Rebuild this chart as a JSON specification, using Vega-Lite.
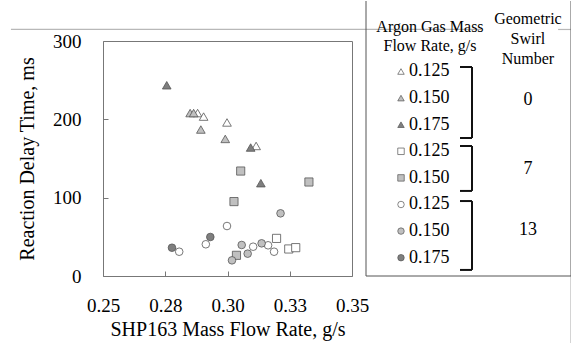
{
  "$schema": "https://vega.github.io/schema/vega-lite/v6.json",
  "padding": {"left": 10, "top": 0, "right": 0, "bottom": 0},
  "background": "white",
  "bounds": "flush",
  "spacing": 14,
  "config": {
    "font": "Liberation Serif",
    "axis": {"grid": false, "labelFont": "Liberation Serif", "titleFont": "Liberation Serif", "labelColor": "black", "titleColor": "black", "titleFontWeight": "normal"},
    "text": {"font": "Liberation Serif"}
  },
  "datasets": {
    "points": [
      {"shp": 0.2880, "delay": 208, "argon": "0.125", "swirl": "0"},
      {"shp": 0.2904, "delay": 203.5, "argon": "0.125", "swirl": "0"},
      {"shp": 0.2998, "delay": 196, "argon": "0.125", "swirl": "0"},
      {"shp": 0.3115, "delay": 166, "argon": "0.125", "swirl": "0"},
      {"shp": 0.2850, "delay": 208, "argon": "0.150", "swirl": "0"},
      {"shp": 0.2864, "delay": 208, "argon": "0.150", "swirl": "0"},
      {"shp": 0.2893, "delay": 187, "argon": "0.150", "swirl": "0"},
      {"shp": 0.2991, "delay": 175, "argon": "0.150", "swirl": "0"},
      {"shp": 0.2756, "delay": 243.5, "argon": "0.175", "swirl": "0"},
      {"shp": 0.3093, "delay": 164, "argon": "0.175", "swirl": "0"},
      {"shp": 0.3134, "delay": 118.5, "argon": "0.175", "swirl": "0"},
      {"shp": 0.3197, "delay": 48, "argon": "0.125", "swirl": "7"},
      {"shp": 0.3246, "delay": 34.5, "argon": "0.125", "swirl": "7"},
      {"shp": 0.3274, "delay": 36.2, "argon": "0.125", "swirl": "7"},
      {"shp": 0.3053, "delay": 134, "argon": "0.150", "swirl": "7"},
      {"shp": 0.3327, "delay": 120, "argon": "0.150", "swirl": "7"},
      {"shp": 0.3026, "delay": 95, "argon": "0.150", "swirl": "7"},
      {"shp": 0.3036, "delay": 26.4, "argon": "0.150", "swirl": "7"},
      {"shp": 0.2998, "delay": 63.8, "argon": "0.125", "swirl": "13"},
      {"shp": 0.2913, "delay": 40.5, "argon": "0.125", "swirl": "13"},
      {"shp": 0.3103, "delay": 37.4, "argon": "0.125", "swirl": "13"},
      {"shp": 0.3163, "delay": 39.2, "argon": "0.125", "swirl": "13"},
      {"shp": 0.3187, "delay": 31, "argon": "0.125", "swirl": "13"},
      {"shp": 0.2806, "delay": 31, "argon": "0.125", "swirl": "13"},
      {"shp": 0.3213, "delay": 80, "argon": "0.150", "swirl": "13"},
      {"shp": 0.3057, "delay": 39.6, "argon": "0.150", "swirl": "13"},
      {"shp": 0.3137, "delay": 41.7, "argon": "0.150", "swirl": "13"},
      {"shp": 0.3081, "delay": 28.5, "argon": "0.150", "swirl": "13"},
      {"shp": 0.3018, "delay": 20, "argon": "0.150", "swirl": "13"},
      {"shp": 0.2777, "delay": 36.1, "argon": "0.175", "swirl": "13"},
      {"shp": 0.2931, "delay": 49.8, "argon": "0.175", "swirl": "13"}
    ],
    "entries": [
      {"row": 1, "argon": "0.125", "swirl": "0"},
      {"row": 2, "argon": "0.150", "swirl": "0"},
      {"row": 3, "argon": "0.175", "swirl": "0"},
      {"row": 4, "argon": "0.125", "swirl": "7"},
      {"row": 5, "argon": "0.150", "swirl": "7"},
      {"row": 6, "argon": "0.125", "swirl": "13"},
      {"row": 7, "argon": "0.150", "swirl": "13"},
      {"row": 8, "argon": "0.175", "swirl": "13"}
    ],
    "headers": [
      {"text": "Argon Gas Mass", "row": -0.673, "col": 31.2},
      {"text": "Flow Rate, g/s", "row": 0.041, "col": 31.2},
      {"text": "Geometric", "row": -0.962, "col": 79},
      {"text": "Swirl", "row": -0.21, "col": 79},
      {"text": "Number", "row": 0.541, "col": 79}
    ],
    "groups": [
      {"text": "0", "row": 2.06, "col": 79},
      {"text": "7", "row": 4.665, "col": 79},
      {"text": "13", "row": 6.96, "col": 79}
    ],
    "brackets": [
      {"x1": 45.85, "x2": 51.7, "y1": 0.831, "y2": 0.831},
      {"x1": 51.7, "x2": 51.7, "y1": 0.831, "y2": 3.5},
      {"x1": 45.85, "x2": 51.7, "y1": 3.5, "y2": 3.5},
      {"x1": 45.85, "x2": 51.7, "y1": 3.8, "y2": 3.8},
      {"x1": 51.7, "x2": 51.7, "y1": 3.8, "y2": 5.49},
      {"x1": 45.85, "x2": 51.7, "y1": 5.49, "y2": 5.49},
      {"x1": 45.85, "x2": 51.7, "y1": 5.87, "y2": 5.87},
      {"x1": 51.7, "x2": 51.7, "y1": 5.87, "y2": 8.46},
      {"x1": 45.85, "x2": 51.7, "y1": 8.46, "y2": 8.46}
    ],
    "box": [
      {"x1": 0, "x2": 0, "y1": -1.65, "y2": 8.688},
      {"x1": 0, "x2": 100, "y1": 8.688, "y2": 8.688},
      {"x1": 100, "x2": 100, "y1": -1.65, "y2": 8.688}
    ],
    "faint": [
      {"x1": 100, "x2": 100, "y1": 8.688, "y2": 11.244},
      {"x1": -173.2, "x2": 56.1, "y1": -0.58, "y2": -0.58},
      {"x1": 93.7, "x2": 100, "y1": -0.58, "y2": -0.58}
    ]
  },
  "hconcat": [
    {
      "width": 249,
      "height": 235,
      "view": {"stroke": "#777", "strokeWidth": 1},
      "data": {"name": "points"},
      "mark": {"type": "point", "filled": true, "stroke": "#555", "strokeWidth": 0.8, "opacity": 1},
      "encoding": {
        "x": {
          "field": "shp", "type": "quantitative",
          "scale": {"domain": [0.25, 0.35], "nice": false, "zero": false},
          "axis": {"title": "SHP163 Mass Flow Rate, g/s", "values": [0.25, 0.275, 0.3, 0.325, 0.35], "format": ".2f",
                   "domain": false, "tickSize": -5, "tickColor": "#777", "labelFontSize": 19, "titleFontSize": 20,
                   "labelFont": "Liberation Serif", "titleFont": "Liberation Serif",
                   "labelPadding": 25, "titlePadding": 4, "labelFlush": false}
        },
        "y": {
          "field": "delay", "type": "quantitative",
          "scale": {"domain": [0, 300], "nice": false},
          "axis": {"title": "Reaction Delay Time, ms", "values": [0, 100, 200, 300],
                   "domain": false, "tickSize": -5, "tickColor": "#777", "labelFontSize": 19, "titleFontSize": 20,
                   "labelFont": "Liberation Serif", "titleFont": "Liberation Serif",
                   "labelPadding": 27, "titlePadding": 15, "labelFlush": false}
        },
        "shape": {"field": "swirl", "type": "nominal", "scale": {"domain": ["0", "7", "13"], "range": ["triangle-up", "square", "circle"]}, "legend": null},
        "fill": {"field": "argon", "type": "nominal", "scale": {"domain": ["0.125", "0.150", "0.175"], "range": ["#ffffff", "#c0c0c0", "#7f7f7f"]}, "legend": null},
        "size": {"field": "swirl", "type": "nominal", "scale": {"domain": ["0", "7", "13"], "range": [75, 58, 64]}, "legend": null}
      }
    },
    {
      "width": 205,
      "height": 235,
      "view": {"stroke": null},
      "layer": [
        {
          "data": {"name": "faint"},
          "mark": {"type": "rule", "color": "#b8b8b8", "strokeWidth": 1.2},
          "encoding": {
            "x": {"field": "x1", "type": "quantitative", "scale": {"domain": [0, 100], "nice": false, "zero": false}, "axis": null},
            "x2": {"field": "x2"},
            "y": {"field": "y1", "type": "quantitative", "scale": {"domain": [-0.1466, 8.688], "nice": false, "zero": false, "reverse": true}, "axis": null},
            "y2": {"field": "y2"}
          }
        },
        {
          "data": {"name": "box"},
          "mark": {"type": "rule", "color": "#555", "strokeWidth": 1},
          "encoding": {
            "x": {"field": "x1", "type": "quantitative"},
            "x2": {"field": "x2"},
            "y": {"field": "y1", "type": "quantitative"},
            "y2": {"field": "y2"}
          }
        },
        {
          "data": {"name": "brackets"},
          "mark": {"type": "rule", "color": "#111", "strokeWidth": 2},
          "encoding": {
            "x": {"field": "x1", "type": "quantitative"},
            "x2": {"field": "x2"},
            "y": {"field": "y1", "type": "quantitative"},
            "y2": {"field": "y2"}
          }
        },
        {
          "data": {"name": "entries"},
          "mark": {"type": "point", "filled": true, "stroke": "#555", "strokeWidth": 0.7, "opacity": 1, "size": 42},
          "encoding": {
            "x": {"datum": 17.07, "type": "quantitative"},
            "y": {"field": "row", "type": "quantitative"},
            "shape": {"field": "swirl", "type": "nominal", "legend": null},
            "fill": {"field": "argon", "type": "nominal", "legend": null}
          }
        },
        {
          "data": {"name": "entries"},
          "mark": {"type": "text", "align": "left", "baseline": "middle", "fontSize": 18, "color": "black", "font": "Liberation Serif"},
          "encoding": {
            "x": {"datum": 20.98, "type": "quantitative"},
            "y": {"field": "row", "type": "quantitative"},
            "text": {"field": "argon"}
          }
        },
        {
          "data": {"name": "headers"},
          "mark": {"type": "text", "align": "center", "baseline": "middle", "fontSize": 16, "color": "black", "font": "Liberation Serif"},
          "encoding": {
            "x": {"field": "col", "type": "quantitative"},
            "y": {"field": "row", "type": "quantitative"},
            "text": {"field": "text"}
          }
        },
        {
          "data": {"name": "groups"},
          "mark": {"type": "text", "align": "center", "baseline": "middle", "fontSize": 18, "color": "black", "font": "Liberation Serif"},
          "encoding": {
            "x": {"field": "col", "type": "quantitative"},
            "y": {"field": "row", "type": "quantitative"},
            "text": {"field": "text"}
          }
        }
      ]
    }
  ]
}
